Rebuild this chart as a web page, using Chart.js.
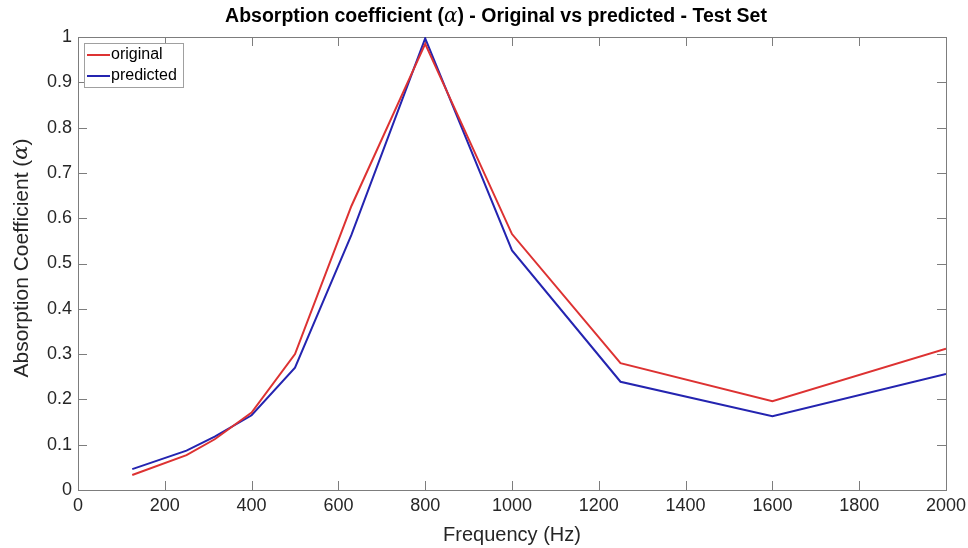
<!DOCTYPE html>
<html>
<head>
<meta charset="utf-8">
<script src="https://cdn.jsdelivr.net/npm/chart.js@4.4.1/dist/chart.umd.min.js"></script>
<style>
  html, body { margin: 0; padding: 0; background: #fff; }
  #wrap { width: 968px; height: 548px; }
</style>
</head>
<body>
<div id="wrap"><canvas id="alphaChart" width="968" height="548"></canvas></div>
<script>
// one-third octave band centres used in the test set
const freqHz = [125, 250, 315, 400, 500, 630, 800, 1000, 1250, 1600, 2000];
const originalAlpha = [0.033, 0.077, 0.112, 0.171, 0.300, 0.627, 0.985, 0.565, 0.280, 0.196, 0.312];
const predictedAlpha = [0.046, 0.087, 0.118, 0.165, 0.270, 0.563, 0.997, 0.529, 0.239, 0.163, 0.256];

const xTicks = [0, 200, 400, 600, 800, 1000, 1200, 1400, 1600, 1800, 2000];
const yTicks = [0, 0.1, 0.2, 0.3, 0.4, 0.5, 0.6, 0.7, 0.8, 0.9, 1];

const AXIS_COLOR = '#7d7d7d';
const TEXT_COLOR = '#262626';
const FONT = '"Liberation Sans", Arial, sans-serif';

function toPoints(xs, ys) {
    return xs.map((x, i) => ({ x: x, y: ys[i] }));
}

// draws text made of runs with different fonts, centred on (cx, cy)
function drawRuns(ctx, runs, cx, cy) {
    let total = 0;
    runs.forEach(r => { ctx.font = r.font; total += ctx.measureText(r.text).width; });
    let x = cx - total / 2;
    ctx.textAlign = 'left';
    ctx.textBaseline = 'middle';
    runs.forEach(r => {
        ctx.font = r.font;
        ctx.fillText(r.text, x, cy);
        x += ctx.measureText(r.text).width;
    });
}

// MATLAB-like box with inward ticks on every side
const boxAxes = {
    id: 'boxAxes',
    beforeDatasetsDraw(chart) {
        const { ctx, chartArea: a, scales: { x, y } } = chart;
        const len = 9;
        ctx.save();
        ctx.strokeStyle = AXIS_COLOR;
        ctx.lineWidth = 1;
        ctx.beginPath();
        xTicks.forEach(v => {
            const px = Math.round(x.getPixelForValue(v)) + 0.5;
            ctx.moveTo(px, a.bottom); ctx.lineTo(px, a.bottom - len);
            ctx.moveTo(px, a.top); ctx.lineTo(px, a.top + len);
        });
        yTicks.forEach(v => {
            const py = Math.round(y.getPixelForValue(v)) + 0.5;
            ctx.moveTo(a.left, py); ctx.lineTo(a.left + len, py);
            ctx.moveTo(a.right, py); ctx.lineTo(a.right - len, py);
        });
        ctx.stroke();
        ctx.strokeRect(Math.round(a.left) + 0.5, Math.round(a.top) + 0.5,
            Math.round(a.right - a.left), Math.round(a.bottom - a.top));
        ctx.restore();
    },
    afterDraw(chart) {
        const { ctx, chartArea: a } = chart;
        const midX = (a.left + a.right) / 2;
        ctx.save();
        ctx.fillStyle = '#000';
        drawRuns(ctx, [
            { text: 'Absorption coefficient (', font: 'bold 19.5px ' + FONT },
            { text: 'α', font: 'italic 20px "DejaVu Serif", serif' },
            { text: ') - Original vs predicted - Test Set', font: 'bold 19.5px ' + FONT }
        ], 496, 17);

        ctx.fillStyle = TEXT_COLOR;
        drawRuns(ctx, [{ text: 'Frequency (Hz)', font: '20px ' + FONT }], midX, 535);

        ctx.translate(22, 258);
        ctx.rotate(-Math.PI / 2);
        drawRuns(ctx, [
            { text: 'Absorption Coefficient (', font: '21px ' + FONT },
            { text: 'α', font: 'italic 21px "DejaVu Serif", serif' },
            { text: ')', font: '21px ' + FONT }
        ], 0, 0);
        ctx.restore();

        // legend box in the upper-left corner of the axes
        const lx = a.left + 6, ly = a.top + 6, lw = 99, lh = 44;
        ctx.save();
        ctx.fillStyle = '#fff';
        ctx.fillRect(lx, ly, lw, lh);
        ctx.strokeStyle = '#a0a0a0';
        ctx.lineWidth = 1;
        ctx.strokeRect(lx + 0.5, ly + 0.5, lw, lh);
        ctx.font = '16px ' + FONT;
        ctx.textAlign = 'left';
        ctx.textBaseline = 'middle';
        chart.data.datasets.forEach((ds, i) => {
            const cy = ly + 12 + i * 21;
            ctx.strokeStyle = ds.borderColor;
            ctx.lineWidth = 2;
            ctx.beginPath();
            ctx.moveTo(lx + 3, cy); ctx.lineTo(lx + 26, cy);
            ctx.stroke();
            ctx.fillStyle = '#000';
            ctx.fillText(ds.label, lx + 27, cy);
        });
        ctx.restore();
    }
};

new Chart(document.getElementById('alphaChart'), {
    type: 'line',
    data: {
        datasets: [{
            label: 'original',
            data: toPoints(freqHz, originalAlpha),
            borderColor: '#dd3232',
            borderWidth: 2,
            pointRadius: 0,
            tension: 0,
            fill: false
        }, {
            label: 'predicted',
            data: toPoints(freqHz, predictedAlpha),
            borderColor: '#2424b0',
            borderWidth: 2,
            pointRadius: 0,
            tension: 0,
            fill: false
        }]
    },
    options: {
        responsive: false,
        animation: false,
        layout: { padding: { top: 37, right: 22, left: 0, bottom: 0 } },
        plugins: {
            legend: { display: false },
            title: { display: false },
            tooltip: { enabled: false }
        },
        scales: {
            x: {
                type: 'linear',
                min: 0,
                max: 2000,
                afterFit: s => { s.height = 58; s.paddingLeft = 0; s.paddingRight = 0; },
                afterBuildTicks: s => { s.ticks = xTicks.map(v => ({ value: v })); },
                grid: { drawOnChartArea: false, drawTicks: false },
                border: { display: false },
                ticks: {
                    padding: 5,
                    color: TEXT_COLOR,
                    font: { family: FONT, size: 18 },
                    maxRotation: 0,
                    callback: v => String(v)
                }
            },
            y: {
                type: 'linear',
                min: 0,
                max: 1,
                afterFit: s => { s.width = 78; s.paddingTop = 0; s.paddingBottom = 0; },
                afterBuildTicks: s => { s.ticks = yTicks.map(v => ({ value: v })); },
                grid: { drawOnChartArea: false, drawTicks: false },
                border: { display: false },
                ticks: {
                    padding: 6,
                    color: TEXT_COLOR,
                    font: { family: FONT, size: 18 },
                    callback: v => String(Number(v.toFixed(1)))
                }
            }
        }
    },
    plugins: [boxAxes]
});
</script>
</body>
</html>
